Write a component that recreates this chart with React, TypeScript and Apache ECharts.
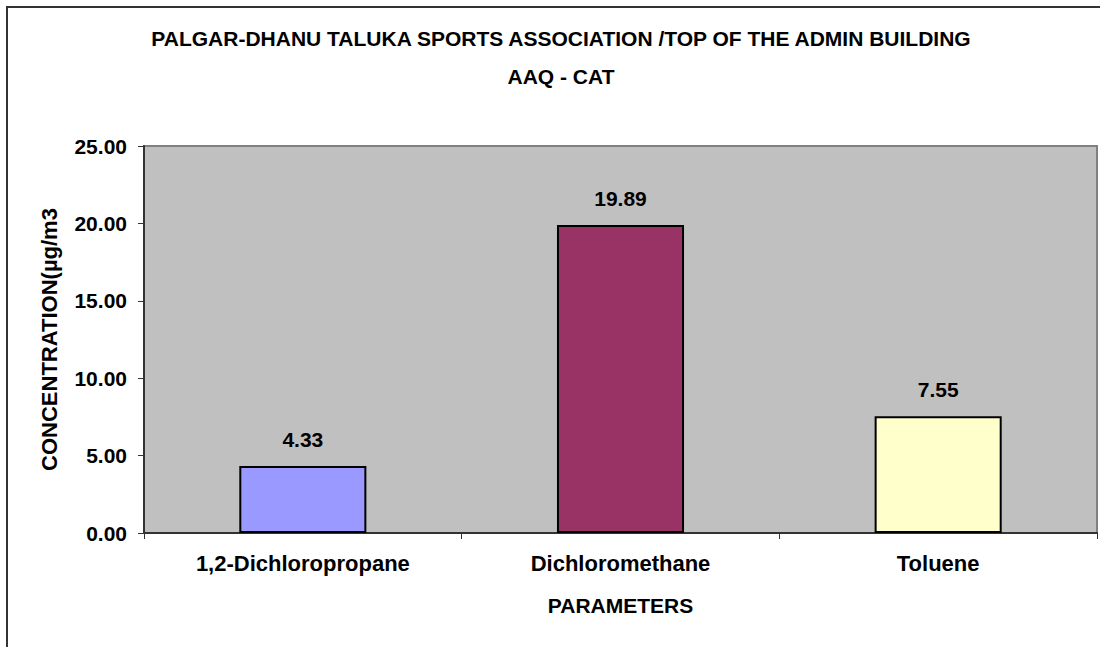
import React, { useEffect, useRef } from "react";
import * as echarts from "echarts";

const categories = ["1,2-Dichloropropane", "Dichloromethane", "Toluene"];
const values = [4.33, 19.89, 7.55];
const barColors = ["#9999FF", "#993366", "#FFFFCC"];
const titleLines = [
  "PALGAR-DHANU TALUKA SPORTS ASSOCIATION /TOP OF THE ADMIN BUILDING",
  "AAQ - CAT",
];
const yAxisName = "CONCENTRATION(µg/m3";
const xAxisName = "PARAMETERS";

const FONT = "'Liberation Sans', Arial, sans-serif";

export default function App() {
  const ref = useRef<HTMLDivElement>(null);
  useEffect(() => {
    if (!ref.current) return;
    const chart = echarts.init(ref.current, undefined, { renderer: "svg" });
    chart.setOption({
      animation: false,
      backgroundColor: "#FFFFFF",
      textStyle: { fontFamily: FONT },
      graphic: [
        {
          type: "rect",
          shape: { x: 7, y: 7, width: 1110, height: 700 },
          style: { fill: "none", stroke: "#333333", lineWidth: 2 },
          z: 100,
        },
        {
          type: "text",
          x: 561,
          y: 38,
          style: {
            text: titleLines[0],
            textAlign: "center",
            textVerticalAlign: "middle",
            font: `bold 21px ${FONT}`,
            fill: "#000000",
          },
        },
        {
          type: "text",
          x: 561,
          y: 76,
          style: {
            text: titleLines[1],
            textAlign: "center",
            textVerticalAlign: "middle",
            font: `bold 21px ${FONT}`,
            fill: "#000000",
          },
        },
      ],
      grid: {
        left: 144,
        top: 146,
        right: 3,
        bottom: 114,
        show: true,
        backgroundColor: "#C0C0C0",
        borderColor: "#808080",
        borderWidth: 2,
      },
      xAxis: {
        type: "category",
        data: categories,
        name: xAxisName,
        nameLocation: "middle",
        nameGap: 62,
        nameTextStyle: { fontSize: 21, fontWeight: "bold", color: "#000", fontFamily: FONT },
        axisLine: { lineStyle: { color: "#333333", width: 2 } },
        axisTick: { show: true, length: 6, lineStyle: { color: "#333333", width: 1 } },
        axisLabel: { fontSize: 22, fontWeight: "bold", color: "#000", margin: 19, fontFamily: FONT },
        splitLine: { show: false },
      },
      yAxis: {
        type: "value",
        min: 0,
        max: 25,
        interval: 5,
        name: yAxisName,
        nameLocation: "middle",
        nameGap: 84,
        nameRotate: 90,
        nameTextStyle: { fontSize: 22, fontWeight: "bold", color: "#000", fontFamily: FONT },
        axisLine: { show: true, lineStyle: { color: "#333333", width: 2 } },
        axisTick: { show: true, length: 6, lineStyle: { color: "#333333", width: 1 } },
        axisLabel: {
          fontSize: 21,
          fontWeight: "bold",
          color: "#000",
          margin: 17,
          fontFamily: FONT,
          formatter: (v: number) => v.toFixed(2),
        },
        splitLine: { show: false },
      },
      series: [
        {
          type: "bar",
          barWidth: "40%",
          data: values.map((v, i) => ({
            value: v,
            itemStyle: { color: barColors[i], borderColor: "#000000", borderWidth: 2 },
          })),
          label: {
            show: true,
            position: "top",
            distance: 16,
            fontSize: 21,
            fontWeight: "bold",
            color: "#000",
            fontFamily: FONT,
            formatter: (p: any) => Number(p.value).toFixed(2),
          },
        },
      ],
    });
    return () => chart.dispose();
  }, []);
  return (
    <div
      ref={ref}
      style={{ position: "absolute", left: 0, top: 0, width: 1100, height: 647 }}
    />
  );
}
